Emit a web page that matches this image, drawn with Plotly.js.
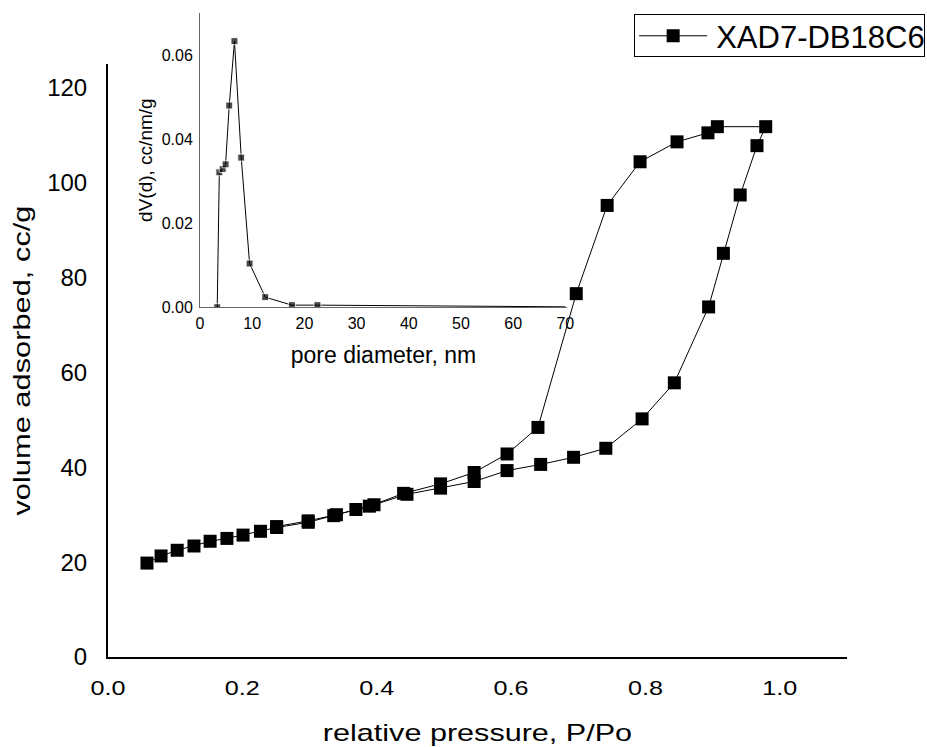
<!DOCTYPE html>
<html>
<head>
<meta charset="utf-8">
<script src="https://cdn.plot.ly/plotly-3.0.1.min.js"></script>
<style>html,body{margin:0;padding:0;background:#fff;}#chart{width:927px;height:747px;}</style>
</head>
<body>
<div id="chart"></div>
<script>
// Isotherm (adsorption then desorption, drawn as one connected line)
const pressure = [0.058,0.079,0.103,0.128,0.152,0.177,0.201,0.227,0.251,0.298,0.336,0.369,0.396,0.445,0.495,0.545,0.594,0.644,0.693,0.741,0.795,0.843,0.894,0.916,0.941,0.966,0.979,
                  0.907,0.893,0.847,0.792,0.743,0.697,0.640,0.594,0.545,0.495,0.440,0.389,0.340,0.298,0.251];
const volume   = [19.8,21.3,22.5,23.4,24.4,25.0,25.7,26.5,27.3,28.4,29.8,31.1,32.1,34.3,35.6,37.0,39.3,40.6,42.1,44.0,50.2,57.8,73.8,85.1,97.4,107.8,111.8,
                  111.8,110.5,108.6,104.4,95.2,76.6,48.4,42.8,38.9,36.5,34.5,31.8,30.0,28.7,27.5];
// Pore size distribution (inset)
const poreDiameter = [3.3,3.7,4.35,4.9,5.6,6.6,7.9,9.5,12.5,17.6,22.5,70];
const dVd          = [0,0.0321,0.0329,0.034,0.048,0.0633,0.0356,0.0104,0.0024,0.0005,0.0005,0.0001];
const poreMarkerSize = poreDiameter.map((d,i)=> i===poreDiameter.length-1 ? 0 : 7);
const seriesName = "XAD7-DB18C6";

const font = "Liberation Sans, Arial, sans-serif";

const traces = [
  {x: pressure, y: volume, type:'scatter', mode:'lines+markers', name: seriesName,
   line:{color:'#000', width:1}, marker:{symbol:'square', size:13, color:'#000'},
   xaxis:'x', yaxis:'y'},
  {x: poreDiameter, y: dVd, type:'scatter', mode:'lines+markers', showlegend:false,
   line:{color:'#000', width:1}, marker:{symbol:'square', size:poreMarkerSize, color:'#000'},
   xaxis:'x2', yaxis:'y2'}
];

const layout = {
  width:927, height:747,
  margin:{l:108, r:80, t:13, b:90, autoexpand:false},
  paper_bgcolor:'#fff', plot_bgcolor:'rgba(0,0,0,0)',
  font:{family:font, color:'#000'},
  showlegend:true,
  legend:{x:0.712, y:0.998, xanchor:'left', yanchor:'top', bordercolor:'#000', borderwidth:1,
          font:{size:31, family:font}, bgcolor:'#fff', itemwidth:70, tracegroupgap:0},
  xaxis:{domain:[0,1], range:[0,1.1], tickvals:[0,0.2,0.4,0.6,0.8,1.0], ticktext:['0.0','0.2','0.4','0.6','0.8','1.0'],
         showgrid:false, zeroline:false, showline:true, linecolor:'#000', linewidth:2,
         ticks:'outside', ticklen:12, tickcolor:'rgba(0,0,0,0)', tickfont:{size:20},
         title:{text:'relative pressure, P/Po', font:{size:23}, standoff:27}, anchor:'y'},
  yaxis:{domain:[0,0.9207], range:[0,125], tickvals:[0,20,40,60,80,100,120],
         showgrid:false, zeroline:false, showline:true, linecolor:'#000', linewidth:2,
         ticks:'outside', ticklen:14, tickcolor:'rgba(0,0,0,0)', tickfont:{size:24},
         title:{text:'volume adsorbed, cc/g', font:{size:23}, standoff:10}, anchor:'x'},
  xaxis2:{domain:[0.1245,0.621], range:[0,70.3], tickvals:[0,10,20,30,40,50,60,70],
          showgrid:false, zeroline:false, showline:true, linecolor:'#666', linewidth:1,
          ticks:'outside', ticklen:2, tickcolor:'rgba(0,0,0,0)', tickfont:{size:16},
          title:{text:'pore diameter, nm', font:{size:23}, standoff:15}, anchor:'y2'},
  yaxis2:{domain:[0.5431,1], range:[0,0.07], tickvals:[0,0.02,0.04,0.06], ticktext:['0.00','0.02','0.04','0.06'],
          showgrid:false, zeroline:false, showline:true, linecolor:'#666', linewidth:1,
          ticks:'outside', ticklen:3, tickcolor:'rgba(0,0,0,0)', tickfont:{size:16},
          title:{text:'dV(d), cc/nm/g', font:{size:19}, standoff:4}, anchor:'x2'}
};

// stretch text along its own writing direction (reference uses a wide face)
function stretchText(selector, sx) {
  document.querySelectorAll(selector).forEach(el => {
    const x = parseFloat(el.getAttribute('x')) || 0;
    const y = parseFloat(el.getAttribute('y')) || 0;
    const t = el.getAttribute('transform') || '';
    el.setAttribute('transform', `${t} translate(${x},${y}) scale(${sx},1) translate(${-x},${-y})`);
  });
}

Plotly.newPlot('chart', traces, layout, {displayModeBar:false, staticPlot:true}).then(() => {
  stretchText('.xaxislayer-above .xtick text', 1.26);
  stretchText('.g-xtitle text', 1.33);
  stretchText('.g-ytitle text', 1.34);
  // legend styling like the reference: wider line symbol, snug box
  document.querySelectorAll('.legendlines path').forEach(p => p.setAttribute('d', 'M3,0h68'));
  document.querySelectorAll('.legendpoints path').forEach(p => p.setAttribute('transform', 'translate(37,0)'));
  const bg = document.querySelector('.legend .bg');
  if (bg) { bg.setAttribute('width', 290); bg.setAttribute('height', 42); }
  const tr = document.querySelector('.legend .traces');
  if (tr) tr.setAttribute('transform', 'translate(2,21.5)');
});
</script>
</body>
</html>
